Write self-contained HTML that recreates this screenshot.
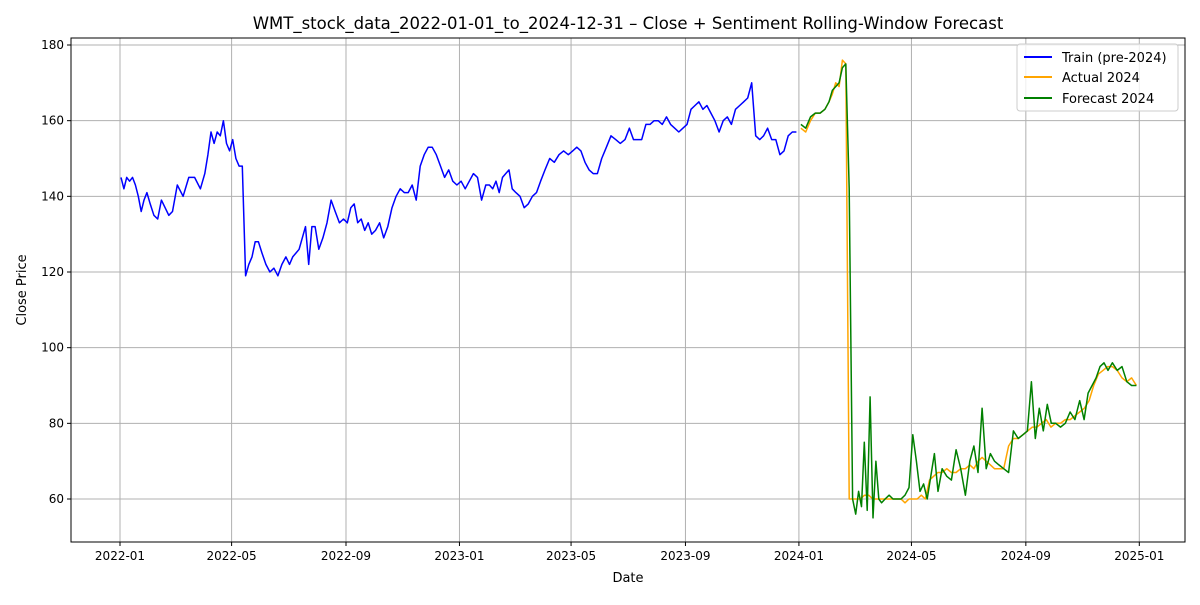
<!DOCTYPE html>
<html><head><meta charset="utf-8"><style>
body{margin:0;background:#fff;font-family:"Liberation Sans","DejaVu Sans",sans-serif}
svg text{font-family:"DejaVu Sans","Liberation Sans",sans-serif}
</style></head><body>
<svg id="chart" width="1200" height="600" xmlns="http://www.w3.org/2000/svg">
<rect width="1200" height="600" fill="#fff"/>
<g id="grid"></g><g id="series"></g><g id="axes"></g>
</svg>
<script>
const trainMonths=["2022-01","2022-02","2022-03","2022-04","2022-05","2022-06","2022-07","2022-08","2022-09","2022-10","2022-11","2022-12","2023-01","2023-02","2023-03","2023-04","2023-05","2023-06","2023-07","2023-08","2023-09","2023-10","2023-11","2023-12"];
const trainValues=[[145,142,145,144,145,143,140,136,139,141],[138,135,134,139,137,135,136],[143,140,145,145,142],[146,151,157,154,157,156,160,154,152],[155,150,148,148,119,122,124,128,128],[125,122,120,121,119,122,124],[122,124,125,126,129,132,122,132,132],[126,129,133,139,136,133,134],[133,137,138,133,134,131,133,130],[131,133,129,132,137,140,142],[141,141,143,139,148,151,153],[153,151,148,145,147,144,143],[144,142,144,146,145,139,143],[143,142,144,141,145,146,147,142],[141,140,137,138,140,141,144],[147,150,149,151,152,151],[152,153,152,149,147,146,146],[150,153,156,155,154,155],[158,155,155,155,159,159,160],[160,159,161,159,158,157,158],[159,163,164,165,163,164,162],[160,157,160,161,159,163,164],[165,166,170,156,155,156,158],[155,155,151,152,156,157,157]];
const testMonths=["2024-01","2024-02","2024-03","2024-04","2024-05","2024-06","2024-07","2024-08","2024-09","2024-10","2024-11","2024-12"];
const actualValues=[[158,157,160,162,162,163],[165,167,170,169,176,175,60,60],[60,60,61,61,60,60,60],[60,60,60,60,60,59,60],[60,60,61,60,65,66,67],[67,68,67,67,68,68],[69,68,70,71,70,69,68],[68,68,74,76,76,77],[78,79,79,80,81,79],[80,80,81,81,82,83],[84,86,90,93,94,95],[95,94,92,91,92,90]];
const forecastValues=[[159,158,161,162,162,163],[165,168,169,170,174,175,142,60],[56,62,58,75,57,87,55,70,60,59],[60,61,60,60,60,61,63],[77,70,62,64,60,66,72,62],[68,66,65,73,68,61],[70,74,67,84,68,72,70],[69,68,67,78,76,77],[78,91,76,84,78,85,80],[80,79,80,83,81,86],[81,88,90,92,95,96,94],[96,94,95,91,90,90]];
const yTicks=[60,80,100,120,140,160,180];
const xTicks=["2022-01","2022-05","2022-09","2023-01","2023-05","2023-09","2024-01","2024-05","2024-09","2025-01"];

const NS="http://www.w3.org/2000/svg";
const L=71,R=1185,T=38,B=542;
const d0=Date.UTC(2022,0,1);
function dayOf(s,day){const p=s.split("-");return (Date.UTC(+p[0],+p[1]-1,day||1)-d0)/864e5;}
function x(days){return 120+days*(1019.3/1096);}
function y(v){return 499-(v-60)*(454/120);}
function mk(tag,attrs,parent){const e=document.createElementNS(NS,tag);for(const k in attrs)e.setAttribute(k,attrs[k]);parent.appendChild(e);return e;}
function pts(months,vals){const out=[];months.forEach((m,i)=>{const p=m.split("-");const dim=new Date(Date.UTC(+p[0],+p[1],0)).getUTCDate();const n=vals[i].length;vals[i].forEach((v,j)=>{out.push([x(dayOf(m,1)+(j+0.5)*dim/n-0.5),y(v)]);});});return out;}
const grid=document.getElementById('grid'),axes=document.getElementById('axes'),series=document.getElementById('series');
xTicks.forEach(t=>{const px=x(dayOf(t));
const g=mk('line',{x1:px,x2:px,y1:T,y2:B,stroke:'#b0b0b0','stroke-width':1},grid);

mk('line',{x1:px,x2:px,y1:B,y2:B+4,stroke:'#000'},axes);
const tx=mk('text',{x:px,y:B+18,'text-anchor':'middle','font-size':12},axes);tx.textContent=t;
});
yTicks.forEach(t=>{const py=y(t);
const g=mk('line',{x1:L,x2:R,y1:py,y2:py,stroke:'#b0b0b0','stroke-width':1},grid);

mk('line',{x1:L-4,x2:L,y1:py,y2:py,stroke:'#000'},axes);
const tx=mk('text',{x:L-7,y:py+4,'text-anchor':'end','font-size':12},axes);tx.textContent=t;
});
const frame=mk('rect',{x:L,y:T,width:R-L,height:B-T,fill:'none',stroke:'#000','stroke-width':1},axes);

function line(p,color,name){const e=mk('polyline',{points:p.map(a=>a[0].toFixed(1)+','+a[1].toFixed(1)).join(' '),fill:'none',stroke:color,'stroke-width':1.5,'stroke-linejoin':'round'},series);
}
line(pts(trainMonths,trainValues),'#0000ff','train-line');
line(pts(testMonths,actualValues),'#ffa500','actual-2024-line');
line(pts(testMonths,forecastValues),'#008000','forecast-2024-line');
</script>
<svg style="position:absolute;left:0;top:0" width="1200" height="600" xmlns="http://www.w3.org/2000/svg">
<text x="628" y="29" text-anchor="middle" font-size="16.5">WMT_stock_data_2022-01-01_to_2024-12-31 – Close + Sentiment Rolling-Window Forecast</text>
<text x="628" y="582" text-anchor="middle" font-size="13">Date</text>
<text x="26" y="290" text-anchor="middle" font-size="13" transform="rotate(-90 26 290)">Close Price</text>
<g>
<rect x="1017" y="44" width="161" height="67" fill="#fff" fill-opacity="0.8" stroke="#ccc" rx="3"/>
<line x1="1024" x2="1052" y1="57" y2="57" stroke="#0000ff" stroke-width="2"/>
<text x="1062" y="62" font-size="13">Train (pre-2024)</text>
<line x1="1024" x2="1052" y1="77" y2="77" stroke="#ffa500" stroke-width="2"/>
<text x="1062" y="82" font-size="13">Actual 2024</text>
<line x1="1024" x2="1052" y1="98" y2="98" stroke="#008000" stroke-width="2"/>
<text x="1062" y="103" font-size="13">Forecast 2024</text>
</g>
</svg>
</body></html>
